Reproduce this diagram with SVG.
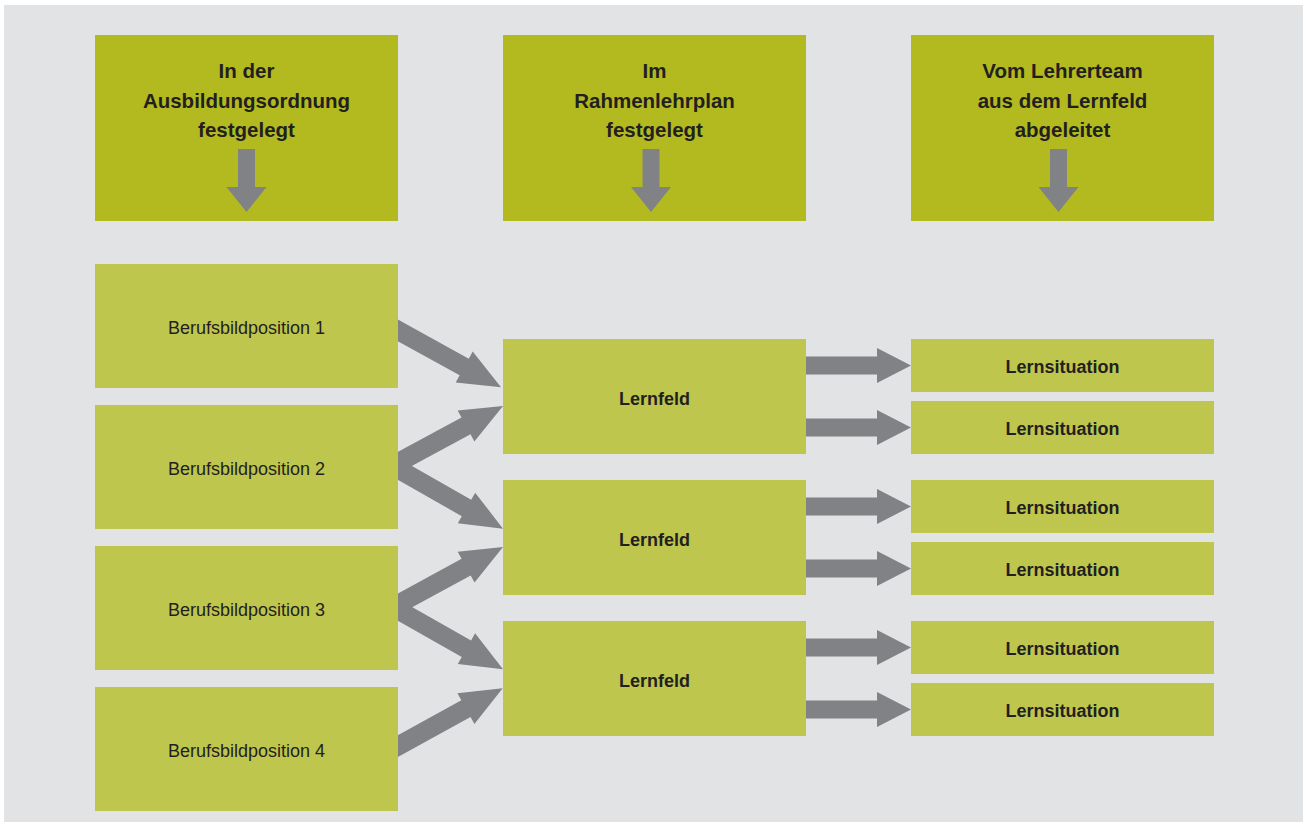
<svg xmlns="http://www.w3.org/2000/svg" xmlns:xlink="http://www.w3.org/1999/xlink" width="1303" height="822" viewBox="0 0 1303 822">
<style>
.hdr{fill:#b2ba1f}
.box{fill:#bfc64e}
.arr{fill:#818286}
text{font-family:"Liberation Sans",Arial,sans-serif;fill:#231f20;text-anchor:middle}
.ht{font-size:20.5px;font-weight:bold}
.bt{font-size:18px}
.lt{font-size:18px;font-weight:bold}
</style>
<defs>
<polygon id="harrow" points="806,-9 877,-9 877,-17.5 911,0 877,17.5 877,9 806,9"/>
<polygon id="varrow" points="-8.5,149 8.5,149 8.5,187 20,187 0,212 -20,187 -8.5,187 -8.5,149"/>
</defs>
<rect x="4" y="5" width="1299" height="817" fill="#e2e3e5"/>
<g id="connectors" class="arr">
<polygon points="384.65,333.99 459.63,375.33 455.72,382.42 501,387.3 472.72,351.6 468.81,358.69 393.83,317.35"/>
<polygon points="393.71,475.71 470.54,434.29 474.38,441.42 503,406 457.68,410.44 461.52,417.57 384.69,458.99"/>
<polygon points="384.61,472.32 461.79,516.2 457.79,523.24 503,528.7 475.19,492.64 471.19,499.68 394.01,455.8"/>
<polygon points="393.77,617.32 470.67,575.43 474.54,582.55 503,547 457.7,551.64 461.58,558.75 384.68,600.64"/>
<polygon points="384.62,613.35 461.76,656.92 457.78,663.97 503,669.3 475.08,633.33 471.1,640.38 393.96,596.81"/>
<polygon points="393.83,759.15 470.51,716.89 474.41,723.98 502.7,688.3 457.43,693.16 461.34,700.25 384.66,742.51"/>
<use xlink:href="#harrow" y="365.5"/>
<use xlink:href="#harrow" y="427.5"/>
<use xlink:href="#harrow" y="506.5"/>
<use xlink:href="#harrow" y="568.5"/>
<use xlink:href="#harrow" y="647.5"/>
<use xlink:href="#harrow" y="709.5"/>
</g>
<g id="header1">
<rect class="hdr" x="95" y="35" width="303" height="186"/>
<text class="ht" x="246.5" y="78">In der</text>
<text class="ht" x="246.5" y="107.5">Ausbildungsordnung</text>
<text class="ht" x="246.5" y="137">festgelegt</text>
<use class="arr" xlink:href="#varrow" x="246.5"/>
</g>
<g id="header2">
<rect class="hdr" x="503" y="35" width="303" height="186"/>
<text class="ht" x="654.5" y="78">Im</text>
<text class="ht" x="654.5" y="107.5">Rahmenlehrplan</text>
<text class="ht" x="654.5" y="137">festgelegt</text>
<use class="arr" xlink:href="#varrow" x="651"/>
</g>
<g id="header3">
<rect class="hdr" x="911" y="35" width="303" height="186"/>
<text class="ht" x="1062.5" y="78">Vom Lehrerteam</text>
<text class="ht" x="1062.5" y="107.5">aus dem Lernfeld</text>
<text class="ht" x="1062.5" y="137">abgeleitet</text>
<use class="arr" xlink:href="#varrow" x="1058.5"/>
</g>
<g id="bp1"><rect class="box" x="95" y="264" width="303" height="124"/><text class="bt" x="246.5" y="334">Berufsbildposition 1</text></g>
<g id="bp2"><rect class="box" x="95" y="405" width="303" height="124"/><text class="bt" x="246.5" y="475">Berufsbildposition 2</text></g>
<g id="bp3"><rect class="box" x="95" y="546" width="303" height="124"/><text class="bt" x="246.5" y="616">Berufsbildposition 3</text></g>
<g id="bp4"><rect class="box" x="95" y="687" width="303" height="124"/><text class="bt" x="246.5" y="757">Berufsbildposition 4</text></g>
<g id="lf1"><rect class="box" x="503" y="339" width="303" height="115"/><text class="lt" x="654.5" y="405">Lernfeld</text></g>
<g id="lf2"><rect class="box" x="503" y="480" width="303" height="115"/><text class="lt" x="654.5" y="546">Lernfeld</text></g>
<g id="lf3"><rect class="box" x="503" y="621" width="303" height="115"/><text class="lt" x="654.5" y="687">Lernfeld</text></g>
<g id="ls1"><rect class="box" x="911" y="339" width="303" height="53"/><text class="lt" x="1062.5" y="373">Lernsituation</text></g>
<g id="ls2"><rect class="box" x="911" y="401" width="303" height="53"/><text class="lt" x="1062.5" y="435">Lernsituation</text></g>
<g id="ls3"><rect class="box" x="911" y="480" width="303" height="53"/><text class="lt" x="1062.5" y="514">Lernsituation</text></g>
<g id="ls4"><rect class="box" x="911" y="542" width="303" height="53"/><text class="lt" x="1062.5" y="576">Lernsituation</text></g>
<g id="ls5"><rect class="box" x="911" y="621" width="303" height="53"/><text class="lt" x="1062.5" y="655">Lernsituation</text></g>
<g id="ls6"><rect class="box" x="911" y="683" width="303" height="53"/><text class="lt" x="1062.5" y="717">Lernsituation</text></g>
</svg>
